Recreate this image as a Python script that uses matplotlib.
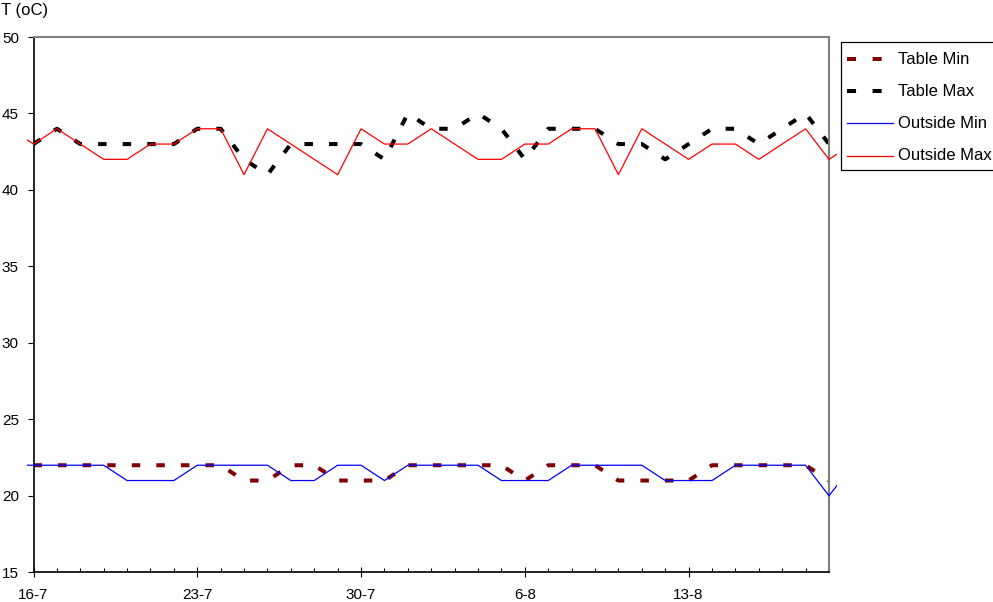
import matplotlib
matplotlib.use("Agg")
import matplotlib.pyplot as plt
from matplotlib.patches import Rectangle
from matplotlib.lines import Line2D
from matplotlib.ticker import MultipleLocator, FixedLocator

plt.rcParams['font.family'] = ['Liberation Sans', 'DejaVu Sans']

# Days counted from 16-7 (day 0). Outside series include one day before and after the axis range.
outside_days = list(range(-1, 36))
outside_min = [22, 22, 22, 22, 22, 21, 21, 21, 22, 22, 22, 22, 21, 21, 22, 22, 21, 22, 22, 22,
               22, 21, 21, 21, 22, 22, 22, 22, 21, 21, 21, 22, 22, 22, 22, 20, 22]
outside_max = [44, 43, 44, 43, 42, 42, 43, 43, 44, 44, 41, 44, 43, 42, 41, 44, 43, 43, 44, 43,
               42, 42, 43, 43, 44, 44, 41, 44, 43, 42, 43, 43, 42, 43, 44, 42, 43]

table_days = list(range(0, 35))
table_min = [22, 22, 22, 22, 22, 22, 22, 22, 22, 21, 21, 22, 22, 21, 21, 21, 22, 22, 22, 22,
             22, 21, 22, 22, 22, 21, 21, 21, 21, 22, 22, 22, 22, 22, 21]
table_max = [43, 44, 43, 43, 43, 43, 43, 44, 44, 42, 41, 43, 43, 43, 43, 42, 45, 44, 44, 45,
             44, 42, 44, 44, 44, 43, 43, 42, 43, 44, 44, 43, 44, 45, 43]

tick_days = [0, 7, 14, 21, 28]
tick_labels = ['16-7', '23-7', '30-7', '6-8', '13-8']
series_names = ['Table Min', 'Table Max', 'Outside Min', 'Outside Max']

W, H = 993, 602
fig = plt.figure(figsize=(W / 100, H / 100), dpi=100)
L, R, T, B = 33.5, 829, 37, 572.3
ax = fig.add_axes([L / W, 1 - B / H, (R - L) / W, (B - T) / H])

dash_lw = 2.9
dash_pat = (2.1, 4.0)
col_tmin = '#800000'
col_tmax = '#000000'
col_omin = '#0000FF'
col_omax = '#FF0000'

# clip rectangle slightly wider than the axes (lines run a few px past the plot edges)
clip = Rectangle((-(L - 26.5) / (R - L), 0), 1 + (L - 26.5) / (R - L) + (837 - R) / (R - L), 1,
                 transform=ax.transAxes, facecolor='none', edgecolor='none')
ax.add_patch(clip)

l1, = ax.plot(outside_days, outside_min, color=col_omin, lw=0.9, zorder=3)
l2, = ax.plot(outside_days, outside_max, color=col_omax, lw=0.9, zorder=3)
for ln in (l1, l2):
    ln.set_clip_path(clip)
ax.plot(table_days, table_min, color=col_tmin, lw=dash_lw, dashes=dash_pat,
        dash_capstyle='butt', solid_joinstyle='miter', zorder=2)
ax.plot(table_days, table_max, color=col_tmax, lw=dash_lw, dashes=dash_pat,
        dash_capstyle='butt', solid_joinstyle='miter', zorder=2)

ax.set_xlim(0, 34)
ax.set_ylim(15, 50)
ax.set_yticks(range(15, 51, 5))
ax.xaxis.set_major_locator(FixedLocator(tick_days))
ax.set_xticklabels(tick_labels)
ax.xaxis.set_minor_locator(MultipleLocator(1))

ax.tick_params(axis='y', direction='out', length=4, width=0.8, pad=6.5, labelsize=11, colors='black')
ax.tick_params(axis='x', which='major', direction='inout', length=7, width=0.8, pad=7.5, labelsize=11)
ax.tick_params(axis='x', which='minor', direction='in', length=3, width=0.8)
ax.tick_params(axis='y', which='minor', left=False)

for s in ('left', 'bottom'):
    ax.spines[s].set_color('black')
    ax.spines[s].set_linewidth(1.2)
for s in ('top', 'right'):
    ax.spines[s].set_color('#808080')
    ax.spines[s].set_linewidth(1.5)

fig.text(1 / W, 1 - 10 / H, 'T (oC)', fontsize=12, va='center', ha='left')

# Legend (drawn manually to match the reference box that runs off the right edge)
lx0, ly0, lx1, ly1 = 841, 42.5, 1000, 170
fig.patches.append(Rectangle((lx0 / W, 1 - ly1 / H), (lx1 - lx0) / W, (ly1 - ly0) / H,
                             transform=fig.transFigure, facecolor='white', edgecolor='black',
                             lw=0.9, zorder=5))
rows_y = [59.3, 91, 123.3, 155.7]
styles = [(col_tmin, dash_lw, True), (col_tmax, dash_lw, True),
          (col_omin, 0.9, False), (col_omax, 0.9, False)]
for name, y, (c, lw, dashed) in zip(series_names, rows_y, styles):
    kw = dict(color=c, lw=lw, transform=fig.transFigure, zorder=6)
    if dashed:
        kw.update(dashes=(2.25, 4.1), dash_capstyle='butt')
    fig.lines.append(Line2D([847 / W, 893 / W], [1 - y / H, 1 - y / H], **kw))
    fig.text(897.5 / W, 1 - y / H, name, fontsize=12, va='center', ha='left', zorder=7)

fig.savefig('out.png', dpi=100, facecolor='white')
